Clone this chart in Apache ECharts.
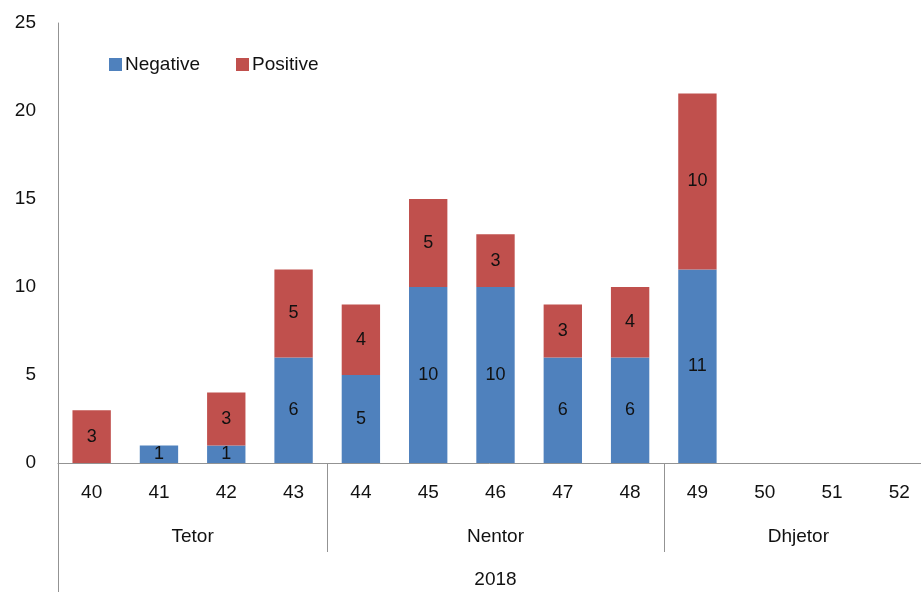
<!DOCTYPE html>
<html>
<head>
<meta charset="utf-8">
<script src="https://cdn.jsdelivr.net/npm/echarts@6/dist/echarts.min.js"></script>
<style>
  html, body { margin: 0; padding: 0; background: #fff; }
  #chart { width: 921px; height: 592px; }
</style>
</head>
<body>
<div id="chart"></div>
<script>
// weeks of the year
const weeks = ['40', '41', '42', '43', '44', '45', '46', '47', '48', '49', '50', '51', '52']
const negative = [0, 1, 1, 6, 5, 10, 10, 6, 6, 11, 0, 0, 0]
const positive = [3, 0, 3, 5, 4, 5, 3, 3, 4, 10, 0, 0, 0]
// month groups: name, first week index, count
const months = [
    { name: 'Tetor', start: 0, count: 4 },
    { name: 'Nentor', start: 4, count: 5 },
    { name: 'Dhjetor', start: 9, count: 4 }
]
const year = '2018'
const yTicks = [0, 5, 10, 15, 20, 25]

const font = "'Liberation Sans', sans-serif"
const axisGray = '#939393'

const chart = echarts.init(document.getElementById('chart'))

// centre of each month group and the boundaries between them, in week units
const monthCentres = months.map(m => m.start + m.count / 2)
const monthBounds = months.slice(1).map(m => m.start)

const labelStyle = {
    show: true,
    position: 'inside',
    color: '#111',
    fontSize: 18,
    fontFamily: font,
    formatter: p => (p.value ? p.value : '')
}

chart.setOption({
    animation: false,
    backgroundColor: '#fff',
    textStyle: { fontFamily: font },
    legend: {
        left: 104,
        top: 50,
        itemWidth: 13,
        itemHeight: 13,
        itemGap: 36,
        icon: 'rect',
        textStyle: { fontSize: 19, color: '#111', fontFamily: font, padding: [0, 0, 0, -2] },
        data: ['Negative', 'Positive']
    },
    grid: {
        left: 58,
        top: 23,
        width: 875,
        bottom: 129,
        containLabel: false,
        outerBoundsMode: 'none'
    },
    xAxis: [
        {
            type: 'category',
            data: weeks,
            axisLine: { lineStyle: { color: axisGray } },
            axisTick: { show: false },
            axisLabel: { color: '#111', fontSize: 19, fontFamily: font, margin: 20 }
        },
        {
            // month row with separators
            type: 'value',
            position: 'bottom',
            min: 0,
            max: weeks.length,
            axisLine: { show: false },
            splitLine: { show: false },
            axisTick: {
                show: true,
                customValues: monthBounds,
                length: 89,
                lineStyle: { color: axisGray }
            },
            axisLabel: {
                customValues: monthCentres,
                formatter: v => {
                    const i = monthCentres.indexOf(v)
                    return i >= 0 ? months[i].name : ''
                },
                color: '#111',
                fontSize: 19,
                fontFamily: font,
                margin: 64
            }
        },
        {
            // year row
            type: 'value',
            position: 'bottom',
            min: 0,
            max: weeks.length,
            axisLine: { show: false },
            splitLine: { show: false },
            axisTick: {
                show: true,
                customValues: [0],
                length: 130,
                lineStyle: { color: axisGray }
            },
            axisLabel: {
                customValues: [weeks.length / 2],
                formatter: () => year,
                color: '#111',
                fontSize: 19,
                fontFamily: font,
                margin: 107
            }
        }
    ],
    yAxis: {
        type: 'value',
        min: yTicks[0],
        max: yTicks[yTicks.length - 1],
        interval: 5,
        axisLine: { show: true, lineStyle: { color: axisGray } },
        axisTick: { show: false },
        splitLine: { show: false },
        axisLabel: { color: '#111', fontSize: 19, fontFamily: font, margin: 22 }
    },
    series: [
        {
            name: 'Negative',
            type: 'bar',
            stack: 'total',
            barWidth: '57%',
            itemStyle: { color: '#4F81BD' },
            label: labelStyle,
            data: negative
        },
        {
            name: 'Positive',
            type: 'bar',
            stack: 'total',
            barWidth: '57%',
            itemStyle: { color: '#C0504D' },
            label: labelStyle,
            data: positive
        }
    ]
})
</script>
</body>
</html>
